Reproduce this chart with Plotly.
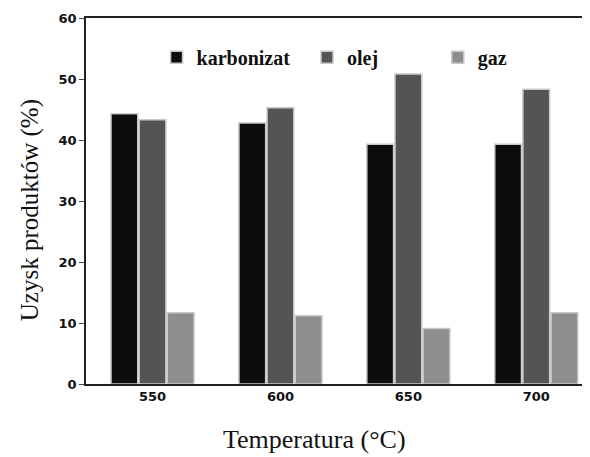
import plotly.graph_objects as go

temperatures = ["550", "600", "650", "700"]
karbonizat = [44.3, 42.8, 39.3, 39.3]
olej = [43.3, 45.3, 50.8, 48.3]
gaz = [11.7, 11.2, 9.1, 11.7]
y_ticks = [0, 10, 20, 30, 40, 50, 60]

series = [
    ("karbonizat", karbonizat, "#0d0d0d", "legend"),
    ("olej", olej, "#545454", "legend2"),
    ("gaz", gaz, "#8e8e8e", "legend3"),
]

fig = go.Figure()
for name, vals, color, lg in series:
    fig.add_trace(go.Bar(
        x=temperatures, y=vals, name=name, legend=lg,
        marker=dict(color=color, line=dict(color="#c8c8c8", width=1.5)),
    ))

legend_style = dict(
    orientation="h", yanchor="middle", xanchor="left",
    bgcolor="rgba(0,0,0,0)",
    font=dict(family="Liberation Serif", size=20, color="#111111", weight=700),
    itemwidth=30, tracegroupgap=0,
)

fig.update_layout(
    width=582, height=449,
    margin=dict(l=78, r=0, t=10, b=73, autoexpand=False),
    paper_bgcolor="white", plot_bgcolor="white",
    barmode="group", bargap=0.34, bargroupgap=0.05,
    legend=dict(x=0.14, y=0.893, **legend_style),
    legend2=dict(x=0.4385, y=0.893, **legend_style),
    legend3=dict(x=0.698, y=0.893, **legend_style),
    xaxis=dict(
        type="category", range=[-0.52, 3.42],
        showline=True, linecolor="#222222", linewidth=1.5, mirror=True,
        ticks="", showgrid=False,
        tickfont=dict(family="DejaVu Sans", size=13, color="#111111", weight=700),
    ),
    yaxis=dict(
        range=[0, 60], tickvals=y_ticks,
        showline=True, linecolor="#222222", linewidth=1.5,
        ticks="outside", ticklen=5, tickcolor="#444444",
        showgrid=False, zeroline=False,
        tickfont=dict(family="DejaVu Sans", size=13, color="#111111", weight=700),
    ),
    showlegend=True,
    annotations=[
        dict(text="Temperatura (°C)", xref="paper", yref="paper",
             x=0.454, y=-0.153, xanchor="center", yanchor="middle",
             showarrow=False, font=dict(family="Liberation Serif", size=26, color="#111111")),
        dict(text="Uzysk produktów (%)", xref="paper", yref="paper",
             x=-0.111, y=0.475, xanchor="center", yanchor="middle", textangle=-90,
             showarrow=False, font=dict(family="Liberation Serif", size=25, color="#111111")),
    ],
)

fig.write_html("out.html")
